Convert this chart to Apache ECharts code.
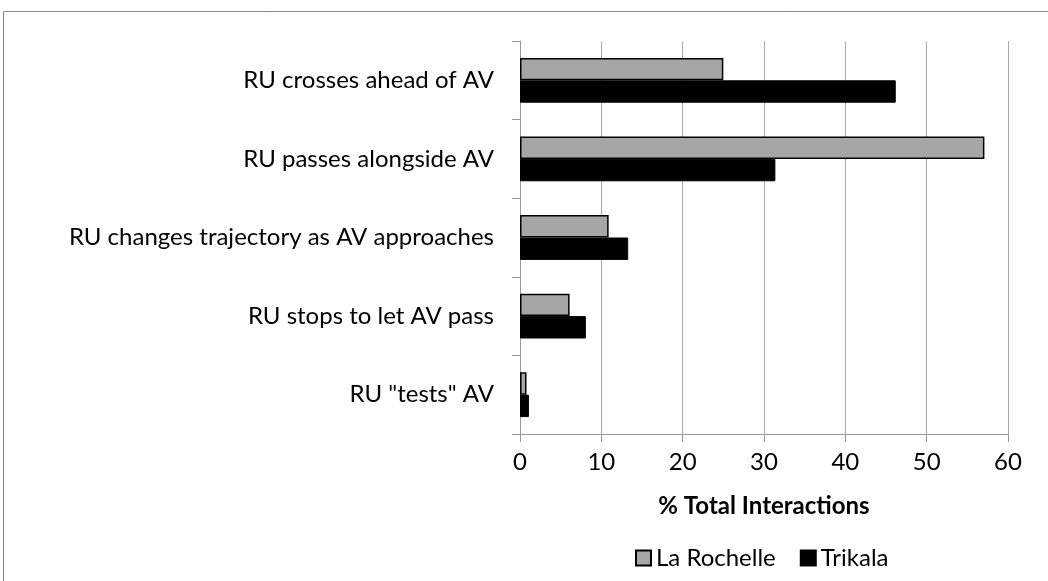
<!DOCTYPE html>
<html>
<head>
<meta charset="utf-8">
<script src="https://cdn.jsdelivr.net/npm/echarts@6/dist/echarts.min.js"></script>
<style>
  html, body { margin: 0; padding: 0; background: #fff; }
  #main { width: 1048px; height: 581px; }
</style>
</head>
<body>
<div id="main"></div>
<script>
// categories, top to bottom
const categories = [
  'RU crosses ahead of AV',
  'RU passes alongside AV',
  'RU changes trajectory as AV approaches',
  'RU stops to let AV pass',
  'RU "tests" AV'
]
const laRochelle = [25, 57.1, 10.9, 6.1, 0.8]
const trikala = [46.2, 31.4, 13.3, 8.1, 1.1]
const xTicks = [0, 10, 20, 30, 40, 50, 60]

const font = 'Lato, "Open Sans", sans-serif'
const chart = echarts.init(document.getElementById('main'))

const option = {
  animation: false,
  textStyle: { fontFamily: font },
  graphic: [{
    type: 'rect',
    shape: { x: 3.5, y: 11.5, width: 1200, height: 800 },
    style: { fill: 'none', stroke: '#888', lineWidth: 1 },
    silent: true
  }],
  grid: { left: 520, right: 40, top: 41, bottom: 147 },
  legend: {
    top: 541,
    left: 630,
    icon: 'rect',
    itemWidth: 15,
    itemHeight: 15,
    itemGap: 24,
    textStyle: { fontSize: 24, color: '#000', fontFamily: font },
    data: ['La Rochelle', 'Trikala']
  },
  xAxis: {
    type: 'value',
    min: xTicks[0],
    max: xTicks[xTicks.length - 1],
    interval: 10,
    name: '% Total Interactions',
    nameLocation: 'middle',
    nameGap: 60,
    nameTextStyle: { fontSize: 24, fontWeight: 'bold', color: '#000', fontFamily: font },
    axisLine: { show: true, lineStyle: { color: '#999' } },
    axisTick: { show: true, length: 8, lineStyle: { color: '#999' } },
    axisLabel: { fontSize: 24, color: '#000', margin: 16 },
    splitLine: { show: true, lineStyle: { color: '#aaa' } }
  },
  yAxis: {
    type: 'category',
    inverse: true,
    data: categories,
    axisLine: { show: true, lineStyle: { color: '#999' } },
    axisTick: { show: true, length: 8, lineStyle: { color: '#999' } },
    axisLabel: { fontSize: 24, color: '#000', margin: 26 }
  },
  series: [
    {
      name: 'La Rochelle',
      type: 'bar',
      data: laRochelle,
      barCategoryGap: '43%',
      barGap: '0%',
      itemStyle: { color: '#a6a6a6', borderColor: '#000', borderWidth: 1.5 }
    },
    {
      name: 'Trikala',
      type: 'bar',
      data: trikala,
      barCategoryGap: '43%',
      barGap: '0%',
      itemStyle: { color: '#000', borderColor: '#000', borderWidth: 1 }
    }
  ]
}

chart.setOption(option)
</script>
</body>
</html>
